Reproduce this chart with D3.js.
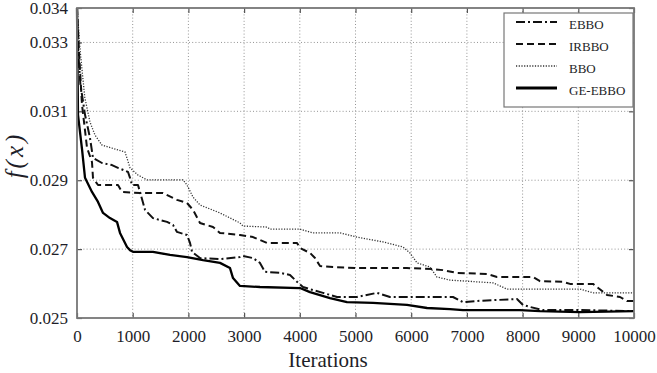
<!DOCTYPE html>
<html><head><meta charset="utf-8">
<script src="https://cdn.jsdelivr.net/npm/d3@7"></script>
<style>body{margin:0;background:#fff}svg{display:block}
svg text{font-family:"Liberation Serif","Times New Roman",Times,serif !important;}
</style>
</head><body>
<svg id="chart" width="657" height="373"></svg>
<script>
const xTicks = [0,1000,2000,3000,4000,5000,6000,7000,8000,9000,10000];
const yTicks = [0.025,0.027,0.029,0.031,0.033,0.034];
const yGrid = [0.027,0.029,0.031,0.033];
const seriesNames = ["EBBO","IRBBO","BBO","GE-EBBO"];

const ebbo = [[0,0.034],[20,0.0328],[60,0.0318],[144,0.0309],[233,0.03023],[287,0.02965],[449,0.0295],[628,0.02944],[736,0.02936],[916,0.02924],[952,0.02907],[987,0.02886],[1095,0.02886],[1131,0.02866],[1221,0.02814],[1364,0.0279],[1616,0.02779],[1724,0.0277],[1795,0.0275],[1975,0.02741],[2029,0.02718],[2065,0.02692],[2208,0.02674],[2567,0.02671],[2926,0.02677],[2980,0.0268],[3160,0.02674],[3285,0.0266],[3375,0.02634],[3644,0.02631],[3824,0.02625],[3950,0.02605],[4057,0.0259],[4237,0.02581],[4416,0.02573],[4668,0.02561],[5027,0.02561],[5386,0.02573],[5619,0.02561],[6463,0.02561],[6750,0.02561],[6930,0.02546],[7235,0.0255],[7899,0.02555],[8007,0.02538],[8133,0.02532],[8366,0.02523],[9030,0.02523],[10000,0.0252]];

const irbbo = [[0,0.034],[40,0.0326],[90,0.03119],[180,0.02994],[269,0.02953],[287,0.02907],[377,0.02886],[736,0.02886],[808,0.02866],[1131,0.02863],[1544,0.02863],[1795,0.02843],[1975,0.02834],[2083,0.02814],[2208,0.02776],[2442,0.02764],[2567,0.02747],[2926,0.02741],[3160,0.02735],[3411,0.02718],[3950,0.02718],[4003,0.02703],[4183,0.02689],[4273,0.02674],[4363,0.02651],[4596,0.02648],[5027,0.02645],[5924,0.02645],[6392,0.02642],[6571,0.02639],[6822,0.02631],[7361,0.02628],[7540,0.02619],[8187,0.02619],[8312,0.02607],[8725,0.02605],[8851,0.02599],[9264,0.02599],[9515,0.02567],[9749,0.02561],[9874,0.02549],[10000,0.02549]];

const bbo = [[0,0.034],[60,0.0327],[140,0.0314],[233,0.03069],[323,0.03031],[449,0.03002],[736,0.02988],[862,0.02982],[952,0.02936],[1095,0.02915],[1257,0.02901],[1903,0.02901],[1975,0.02886],[2083,0.02851],[2208,0.02828],[2567,0.02805],[2926,0.02776],[2980,0.02767],[3411,0.02764],[3465,0.02758],[4003,0.02758],[4237,0.02747],[4722,0.02747],[5027,0.02735],[5494,0.02721],[5853,0.02706],[5978,0.02689],[6104,0.0266],[6337,0.02648],[6463,0.02619],[6697,0.0261],[7469,0.02602],[7720,0.02584],[9030,0.02584],[9264,0.02573],[10000,0.02573]];

const geebbo = [[0,0.034],[8,0.0325],[18,0.0309],[90,0.0299],[144,0.02907],[269,0.02866],[377,0.02837],[467,0.02805],[592,0.0279],[718,0.02779],[772,0.02747],[898,0.02706],[952,0.02697],[1005,0.02692],[1364,0.02692],[1670,0.02683],[1975,0.02677],[2262,0.02668],[2567,0.0266],[2747,0.02645],[2801,0.02616],[2926,0.02593],[3285,0.0259],[4003,0.02587],[4183,0.02575],[4542,0.02558],[4847,0.02546],[5314,0.02544],[5924,0.02538],[6284,0.02529],[6697,0.02526],[6930,0.02523],[7952,0.02523],[8312,0.0252],[9030,0.02517],[10000,0.0252]];

const allSeries = [ebbo, irbbo, bbo, geebbo];
const styles = [
  {dash:"9,3,2,3", w:2.0, c:"#111"},
  {dash:"7,4", w:2.0, c:"#111"},
  {dash:"1.2,1.5", w:1.3, c:"#333"},
  {dash:null, w:2.3, c:"#000"}
];

const L=77, R=634, T=8, B=318;
const svg = d3.select("#chart");
const x = d3.scaleLinear().domain([0,10000]).range([L,R]);
const y = d3.scaleLinear().domain([0.025,0.034]).range([B,T]);

// grid
svg.append("g").selectAll("line").data(xTicks.filter(d=>d>0&&d<10000)).join("line")
  .attr("x1",d=>x(d)).attr("x2",d=>x(d)).attr("y1",T).attr("y2",B)
  .attr("stroke","#888").attr("stroke-width",0.9).attr("stroke-dasharray","1,2.2");
svg.append("g").selectAll("line").data(yGrid).join("line")
  .attr("y1",d=>y(d)).attr("y2",d=>y(d)).attr("x1",L).attr("x2",R)
  .attr("stroke","#888").attr("stroke-width",0.9).attr("stroke-dasharray","1,2.2");

// axes with inward ticks
const ax = svg.append("g").attr("transform",`translate(0,${B})`)
  .call(d3.axisBottom(x).tickValues(xTicks).tickSize(-5).tickPadding(12).tickFormat(d3.format("d")));
const axT = svg.append("g").attr("transform",`translate(0,${T})`)
  .call(d3.axisTop(x).tickValues(xTicks).tickSize(-5).tickFormat(""));
const ay = svg.append("g").attr("transform",`translate(${L},0)`)
  .call(d3.axisLeft(y).tickValues(yTicks).tickSize(-5).tickPadding(9).tickFormat(d3.format(".3f")));
const ayR = svg.append("g").attr("transform",`translate(${R},0)`)
  .call(d3.axisRight(y).tickValues(yTicks).tickSize(-5).tickFormat(""));
[ax,axT,ay,ayR].forEach(g=>{
  g.attr("font-family",null);
  g.select(".domain").remove();
  g.selectAll(".tick line").attr("stroke","#555").attr("stroke-width",1.2);
  g.selectAll("text").attr("font-size",17).attr("fill","#1e1e28");
});
ax.selectAll("text").attr("dy","0.71em");

// lines
const line = d3.line().x(d=>x(d[0])).y(d=>y(d[1]));
allSeries.forEach((s,i)=>{
  svg.append("path").datum(s).attr("d",line).attr("fill","none")
    .attr("stroke",styles[i].c).attr("stroke-width",styles[i].w)
    .attr("stroke-dasharray",styles[i].dash).attr("stroke-linejoin","round");
});

// frame
svg.append("rect").attr("x",L).attr("y",T).attr("width",R-L).attr("height",B-T)
  .attr("fill","none").attr("stroke","#777").attr("stroke-width",1.8);

// axis labels
svg.append("text").attr("x",328).attr("y",367).attr("text-anchor","middle")
  .attr("font-size",21).attr("fill","#1e1e28").text("Iterations");
svg.append("text").attr("transform","translate(23,155) rotate(-90)").attr("text-anchor","middle")
  .attr("font-style","italic").attr("font-size",25)
  .attr("letter-spacing",3).attr("fill","#1e1e28").text("f(x)");

// legend
const lg = svg.append("g");
lg.append("rect").attr("x",504).attr("y",13).attr("width",129).attr("height",94)
  .attr("fill","#fff").attr("stroke","#777").attr("stroke-width",1.2);
seriesNames.forEach((n,i)=>{
  const by = 29 + i*22;
  lg.append("line").attr("x1",516).attr("x2",557).attr("y1",by-7).attr("y2",by-7)
    .attr("stroke",styles[i].c).attr("stroke-width",styles[i].w+ (i===3?0.6:0))
    .attr("stroke-dasharray",styles[i].dash);
  lg.append("text").attr("x",569).attr("y",by)
    .attr("font-size",13).attr("fill","#1e1e28").text(n);
});
</script>
</body></html>
